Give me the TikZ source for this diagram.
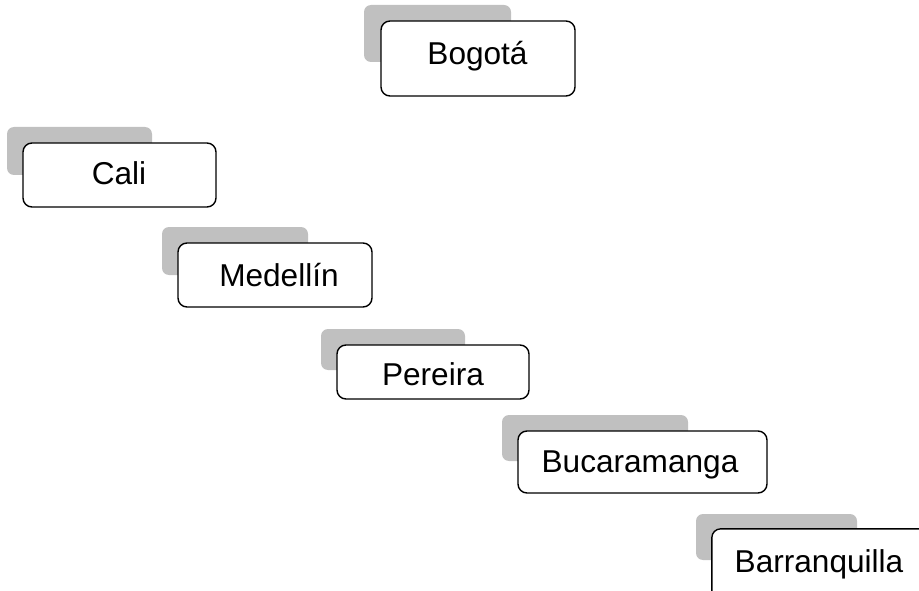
\documentclass[tikz,border=0pt]{standalone}
\usepackage{fontspec}
\setmainfont{Liberation Sans}
\definecolor{shadowgray}{HTML}{C0C0C0}
\begin{document}
\begin{tikzpicture}[x=1pt,y=-1pt,
  shadowbox/.style={fill=shadowgray, draw=none, rounded corners=7pt, inner sep=0pt},
  citybox/.style={fill=white, draw=black, line width=1.4pt, rounded corners=9pt, inner sep=0pt},
  edge/.style={draw=black, line width=1.4pt, rounded corners=9pt},
  lbl/.style={inner sep=0pt, anchor=base, font=\fontsize{31.6}{36}\selectfont}]
\useasboundingbox (0,0) rectangle (919,591);
% Bogota
\node[shadowbox, minimum width=147pt, minimum height=57pt] (s1) at (437.5,33.5) {};
\node[citybox, minimum width=194pt, minimum height=75pt] (b1) at (478,58.5) {};
\node[lbl] (t1) at (477.5,65) {Bogotá};
% Cali
\node[shadowbox, minimum width=145pt, minimum height=48pt] (s2) at (79.5,151) {};
\node[citybox, minimum width=193pt, minimum height=64pt] (b2) at (119.5,175) {};
\node[lbl] (t2) at (119,185) {Cali};
% Medellin
\node[shadowbox, minimum width=146pt, minimum height=48pt] (s3) at (235,251) {};
\node[citybox, minimum width=194pt, minimum height=64pt] (b3) at (275,275) {};
\node[lbl] (t3) at (279,286) {Medellín};
% Pereira
\node[shadowbox, minimum width=144pt, minimum height=41pt] (s4) at (393,349.5) {};
\node[citybox, minimum width=192pt, minimum height=54pt] (b4) at (433,372) {};
\node[lbl] (t4) at (433,385) {Pereira};
% Bucaramanga
\node[shadowbox, minimum width=186pt, minimum height=46pt] (s5) at (595,438) {};
\node[citybox, minimum width=249pt, minimum height=62pt] (b5) at (642.5,462) {};
\node[lbl] (t5) at (640,472) {Bucaramanga};
% Barranquilla (cut off by the picture edge)
\node[shadowbox, minimum width=161pt, minimum height=46pt] (s6) at (776.5,537) {};
\node[fill=white, draw=none, rounded corners=9pt, inner sep=0pt, minimum width=240pt, minimum height=80pt] (b6) at (832,569) {};
\path[edge] (b6.north east) -- (b6.north west) -- (b6.south west);
\node[lbl] (t6) at (819,572) {Barranquilla};
\end{tikzpicture}
\end{document}
